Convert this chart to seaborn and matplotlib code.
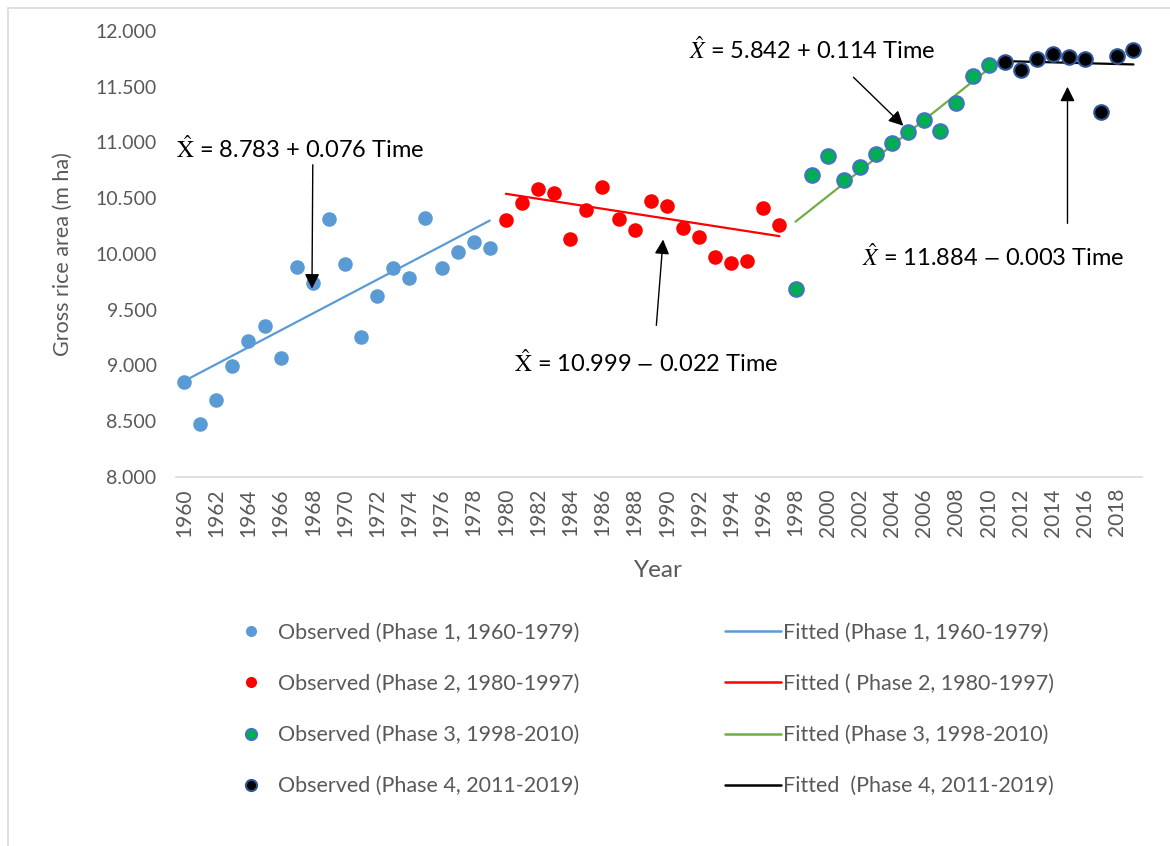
import numpy as np
import pandas as pd
import seaborn as sns
import matplotlib.pyplot as plt
from matplotlib.lines import Line2D

# observed gross rice area (m ha) by phase
yrs1 = list(range(1960, 1980))
obs1 = [8.852, 8.473, 8.688, 8.998, 9.222, 9.354, 9.064, 9.880, 9.737, 10.310,
        9.907, 9.253, 9.623, 9.874, 9.785, 10.326, 9.874, 10.021, 10.108, 10.057]
yrs2 = list(range(1980, 1998))
obs2 = [10.305, 10.455, 10.583, 10.544, 10.135, 10.395, 10.604, 10.314, 10.215,
        10.473, 10.433, 10.233, 10.155, 9.976, 9.917, 9.940, 10.409, 10.257]
yrs3 = list(range(1998, 2011))
obs3 = [9.683, 10.706, 10.882, 10.661, 10.778, 10.897, 10.998, 11.097, 11.199,
        11.100, 11.357, 11.596, 11.698]
yrs4 = list(range(2011, 2020))
obs4 = [11.719, 11.650, 11.749, 11.794, 11.767, 11.746, 11.271, 11.773, 11.830]

# fitted trend lines (end points)
fit1_x, fit1_y = [1960, 1979], [8.86, 10.30]
fit2_x, fit2_y = [1980, 1997], [10.54, 10.16]
fit3_x, fit3_y = [1998, 2010], [10.29, 11.66]
fit4_x, fit4_y = [2011, 2019], [11.73, 11.70]

obs_labels = ["Observed (Phase 1, 1960-1979)", "Observed (Phase 2, 1980-1997)",
              "Observed (Phase 3, 1998-2010)", "Observed (Phase 4, 2011-2019)"]
fit_labels = ["Fitted (Phase 1, 1960-1979)", "Fitted ( Phase 2, 1980-1997)",
              "Fitted (Phase 3, 1998-2010)", "Fitted  (Phase 4, 2011-2019)"]

pt_face = ["#5B9BD5", "#FF0000", "#00B050", "#000000"]
pt_edge = ["#5B9BD5", "#FF0000", "#4472C4", "#2F5597"]
line_col = ["#5B9BD5", "#FF0000", "#70AD47", "#000000"]

sns.set_theme(style="white")
plt.rcParams['font.family'] = ['Lato', 'DejaVu Sans']
plt.rcParams['mathtext.fontset'] = 'stix'
gray = "#595959"

fig = plt.figure(figsize=(11.7, 8.46), dpi=100)
ax = fig.add_axes([176/1170, 1 - 477/846, (1141.5 - 176)/1170, (477 - 31)/846])

obs_sets = [(yrs1, obs1), (yrs2, obs2), (yrs3, obs3), (yrs4, obs4)]
fit_sets = [(fit1_x, fit1_y), (fit2_x, fit2_y), (fit3_x, fit3_y), (fit4_x, fit4_y)]

for i, (xs, ys) in enumerate(fit_sets):
    df = pd.DataFrame({"Year": xs, "Area": ys})
    sns.lineplot(data=df, x="Year", y="Area", color=line_col[i], lw=1.6, ax=ax)

for i, (xs, ys) in enumerate(obs_sets):
    df = pd.DataFrame({"Year": xs, "Area": ys})
    sns.scatterplot(data=df, x="Year", y="Area", color=pt_face[i], edgecolor=pt_edge[i],
                    linewidth=1.5 if i >= 2 else 0, s=110, ax=ax, zorder=3)

ax.set_xlim(1959.5, 2019.5)
ax.set_ylim(8.0, 12.0)
ax.set_xticks(list(range(1960, 2019, 2)))
ax.set_xticklabels([str(y) for y in range(1960, 2019, 2)], rotation=90)
yt = [8.0 + 0.5 * k for k in range(9)]
ax.set_yticks(yt)
ax.set_yticklabels([f"{v:.3f}" for v in yt])
ax.tick_params(axis="both", length=0, colors=gray)
ax.tick_params(axis="x", labelsize=15, pad=8)
ax.tick_params(axis="y", labelsize=14, pad=14)
for s in ["top", "right", "left"]:
    ax.spines[s].set_visible(False)
ax.spines["bottom"].set_color("#D9D9D9")
ax.spines["bottom"].set_linewidth(1.2)
ax.set_xlabel("Year", fontsize=17.5, color=gray, labelpad=17)
ax.set_ylabel("Gross rice area (m ha)", fontsize=15.5, color=gray, labelpad=16)

arrow = dict(arrowstyle="-|>", color="black", lw=1.0, mutation_scale=22, shrinkA=0, shrinkB=0)
fs = 17
ax.annotate("", xy=(1967.95, 9.69), xytext=(1968.0, 10.80), arrowprops=arrow)
ax.text(1967.2, 10.95, r"$\hat{\mathrm{X}}$ = 8.783 + 0.076 Time", fontsize=fs, ha="center", va="center", color="black")
ax.annotate("", xy=(1989.77, 10.13), xytext=(1989.35, 9.36), arrowprops=arrow)
ax.text(1988.7, 9.03, r"$\hat{\mathrm{X}}$ = 10.999 $-$ 0.022 Time", fontsize=fs, ha="center", va="center", color="black")
ax.annotate("", xy=(2004.7, 11.15), xytext=(2001.6, 11.585), arrowprops=arrow)
ax.text(1999.0, 11.83, r"$\hat{X}$ = 5.842 + 0.114 Time", fontsize=fs, ha="center", va="center", color="black")
ax.annotate("", xy=(2014.9, 11.50), xytext=(2014.9, 10.275), arrowprops=arrow)
ax.text(2010.3, 9.98, r"$\hat{X}$ = 11.884 $-$ 0.003 Time", fontsize=fs, ha="center", va="center", color="black")

# legend, two columns
obs_handles = [Line2D([], [], ls="none", marker="o", markersize=8, markerfacecolor=pt_face[i],
                      markeredgecolor=pt_edge[i], markeredgewidth=1.5 if i >= 2 else 0) for i in range(4)]
fit_handles = [Line2D([], [], color=line_col[i], lw=1.8) for i in range(4)]
leg_kw = dict(frameon=False, fontsize=15.5, labelcolor=gray, labelspacing=1.45,
              loc="upper left", borderaxespad=0)
leg1 = fig.legend(obs_handles, obs_labels, bbox_to_anchor=(226/1170, 1 - 614/846),
                  handlelength=1.5, handletextpad=0.5, **leg_kw)
leg2 = fig.legend(fit_handles, fit_labels, bbox_to_anchor=(716/1170, 1 - 614/846),
                  handlelength=2.6, handletextpad=0.1, **leg_kw)

# chart area border (left and top edges visible)
fig.add_artist(Line2D([8/1170, 8/1170], [0, 1 - 8/846], transform=fig.transFigure, color="#D9D9D9", lw=1.2))
fig.add_artist(Line2D([8/1170, 1], [1 - 8/846, 1 - 8/846], transform=fig.transFigure, color="#D9D9D9", lw=1.2))

fig.savefig("out.png", dpi=100)
